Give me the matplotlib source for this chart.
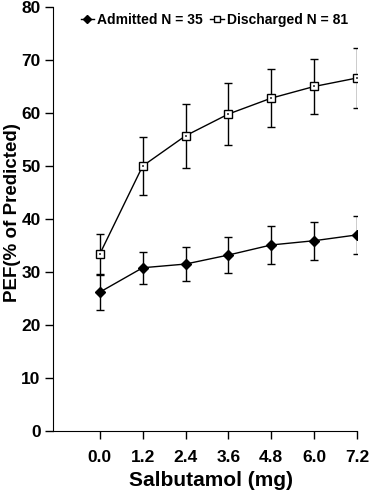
import matplotlib
matplotlib.use("Agg")
import matplotlib.pyplot as plt

plt.rcParams['font.family'] = ['Liberation Sans', 'DejaVu Sans']
plt.rcParams['font.weight'] = 'bold'

dose = [0.0, 1.2, 2.4, 3.6, 4.8, 6.0, 7.2]
tick_labels = ["0.0", "1.2", "2.4", "3.6", "4.8", "6.0", "7.2"]

admitted = [26.2, 30.8, 31.5, 33.2, 35.1, 35.9, 37.0]
admitted_err = [3.3, 3.0, 3.2, 3.4, 3.6, 3.6, 3.6]

discharged = [33.4, 50.0, 55.7, 59.8, 62.8, 65.0, 66.6]
discharged_err = [3.8, 5.5, 6.0, 5.8, 5.5, 5.2, 5.6]

fig = plt.figure(figsize=(3.71, 5.0), dpi=100)
ax = fig.add_axes([0.143, 0.138, 0.819, 0.848])

# error bars first, then the lines and markers on top
ax.errorbar(dose, admitted, yerr=admitted_err, fmt='none', ecolor='black',
            capsize=3, elinewidth=1.0, capthick=1.0)
ax.errorbar(dose, discharged, yerr=discharged_err, fmt='none', ecolor='black',
            capsize=3, elinewidth=1.0, capthick=1.0)

ax.plot(dose, admitted, color='black', lw=1.0, marker='D', ms=5.5,
        mfc='black', mec='black', label='Admitted N = 35')
ax.plot(dose, discharged, color='black', lw=1.0, marker='s', ms=5.5,
        mfc='white', mec='black', mew=1.0, label='Discharged N = 81')
# inner texture of the square markers
ax.plot(dose, discharged, ls='none', marker='s', ms=2, mew=0,
        color='#555555')

ax.set_xlim(-1.31, 7.2)
ax.set_ylim(0, 80)
ax.set_xticks(dose)
ax.set_xticklabels(tick_labels)
ax.set_yticks(range(0, 81, 10))

ax.spines['top'].set_visible(False)
ax.spines['right'].set_visible(False)
ax.tick_params(direction='out', length=6, width=1, labelsize=12.5)
ax.tick_params(axis='x', pad=8)
ax.tick_params(axis='y', pad=3)

fig.text(211 / 371, 0.04, 'Salbutamol (mg)', fontsize=15,
         fontweight='bold', ha='center', va='center')
fig.text(13 / 371, 0.574, 'PEF(% of Predicted)', fontsize=13.5,
         fontweight='bold', ha='center', va='center', rotation=90)

ax.legend(loc='upper center', bbox_to_anchor=(0.53, 1.015), ncol=2,
          frameon=False, fontsize=10, handlelength=1.0,
          handletextpad=0.2, columnspacing=0.5, markerscale=0.7)

fig.savefig('out.png', dpi=100)
